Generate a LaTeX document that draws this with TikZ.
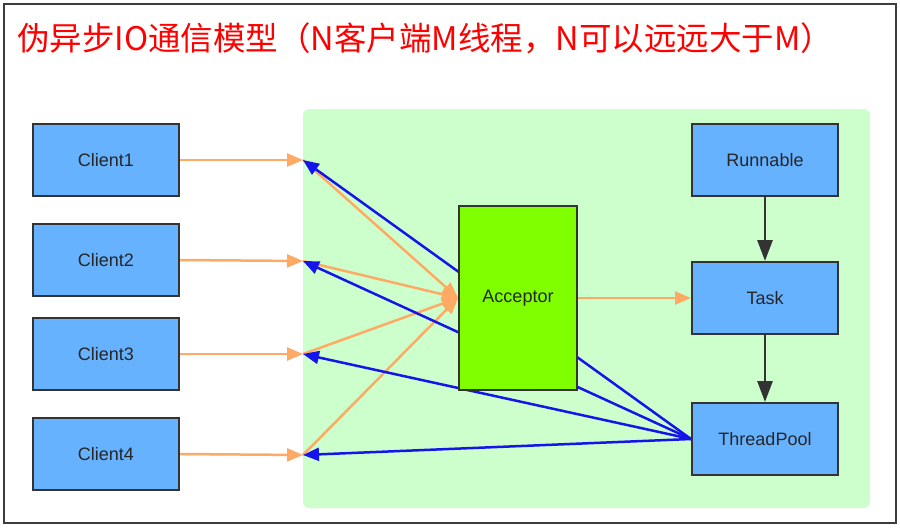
\documentclass[tikz,border=0pt]{standalone}
\usepackage{fontspec}
\setmainfont{Liberation Sans}
\newfontfamily\cjk{Noto Sans CJK SC}
\usetikzlibrary{arrows.meta,positioning}
\pgfdeclarelayer{back}
\pgfdeclarelayer{wires}
\pgfsetlayers{back,wires,main}
\definecolor{boxblue}{RGB}{102,178,255}
\definecolor{boxedge}{RGB}{51,51,51}
\definecolor{acceptgreen}{RGB}{128,255,0}
\definecolor{areagreen}{RGB}{204,255,204}
\definecolor{reqorange}{RGB}{255,170,100}
\definecolor{respblue}{RGB}{20,20,235}
\definecolor{framegray}{RGB}{60,60,60}
\tikzset{box/.style={draw=boxedge,line width=2pt,fill=boxblue,minimum width=146pt,minimum height=72pt,inner sep=0pt,text=black!85,font=\fontsize{18}{21}\selectfont},
req/.style={-{Triangle[length=16pt,width=13pt]},line width=2.5pt,draw=reqorange,color=reqorange},
resp/.style={-{Triangle[length=16pt,width=13pt]},line width=2.5pt,draw=respblue,color=respblue},
flow/.style={-{Triangle[length=21pt,width=15pt]},line width=2.8pt,draw=boxedge,color=boxedge}}

\begin{document}
\begin{tikzpicture}[x=1pt,y=-1pt]
\useasboundingbox (0,0) rectangle (900,531);
\draw[framegray,line width=2pt] (4,4) rectangle (896,523);
\node[anchor=west,inner sep=0pt,text=red,font=\cjk\fontsize{32.5}{36}\selectfont](title)at(17,38){伪异步IO通信模型（N客户端M线程，N可以远远大于M）};
% clients
\node[box](c1)at(106,160){Client1};
\node[box](c2)at(106,260){Client2};
\node[box](c3)at(106,354){Client3};
\node[box](c4)at(106,454){Client4};
% server side
\node[box,fill=acceptgreen,minimum width=118pt,minimum height=184pt](acc)at(518,298){Acceptor};
\node[box](run)at(765,160){Runnable};
\node[box](task)at(765,298){Task};
\node[box](pool)at(765,439){ThreadPool};
\coordinate(p1)at(303,160);
\coordinate(p2)at(303,261);
\coordinate(p3)at(303,354);
\coordinate(p4)at(303,455);
\begin{pgfonlayer}{back}
\fill[areagreen,rounded corners=6pt](303,109)rectangle(870,508);
\end{pgfonlayer}
\begin{pgfonlayer}{wires}
\foreach \i in {1,...,4}{
  \draw[req](c\i.east)--(p\i);
  \draw[req](p\i)--(acc.west);
}
\foreach \i in {1,...,4}{
  \draw[resp](pool.west)--(p\i);
}
\draw[req](acc.east)--(task.west);
\end{pgfonlayer}
\draw[flow](run)--(task);
\draw[flow](task)--(pool);
\end{tikzpicture}
\end{document}
